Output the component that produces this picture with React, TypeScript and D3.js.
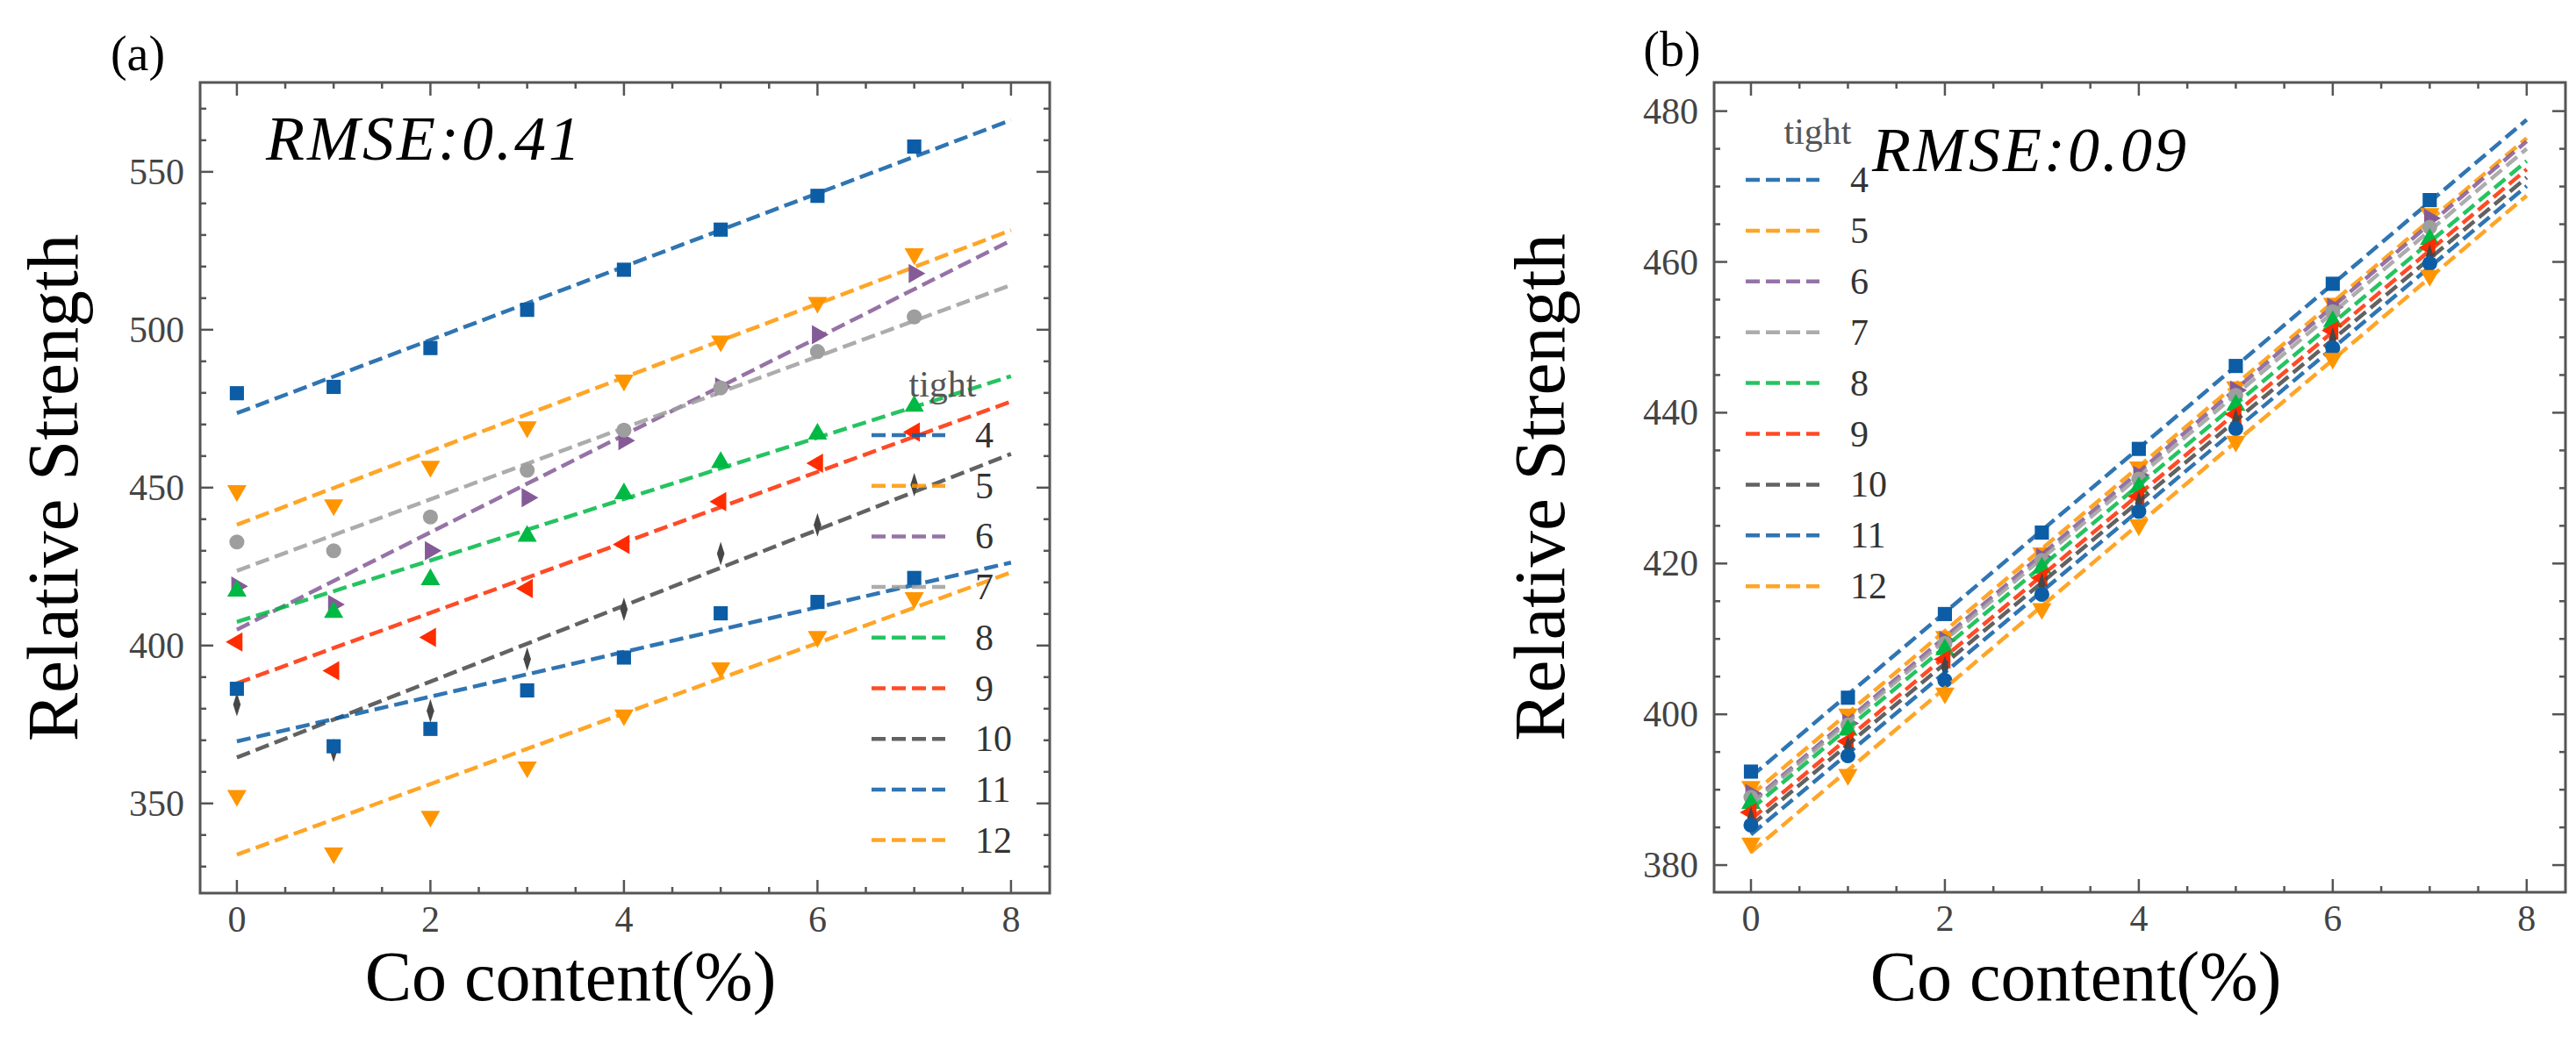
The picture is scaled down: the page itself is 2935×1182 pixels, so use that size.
import React from "react";
import * as d3 from "d3";

// Co content (%) at which each tight value was measured
const coContent = [0, 1, 2, 3, 4, 5, 6, 7];
const tightLabels = ["4", "5", "6", "7", "8", "9", "10", "11", "12"];
const seriesColors = [
  "#0C5DA5",
  "#FF9500",
  "#845B97",
  "#9e9e9e",
  "#00B945",
  "#FF2C00",
  "#474747",
  "#0C5DA5",
  "#FF9500",
];
const markersA = ["square", "down", "right", "circle", "up", "left", "thin", "square", "down"];
const markersB = ["square", "down", "right", "circle", "up", "left", "thin", "circle", "down"];

// panel (a) : RMSE 0.41
const strengthA4 = [479.9, 481.9, 494.2, 506.3, 519.0, 531.7, 542.4, 558.0];
const strengthA5 = [449.0, 444.5, 456.7, 469.2, 484.0, 496.4, 508.6, 524.0];
const strengthA6 = [418.8, 413.0, 430.0, 446.8, 464.9, 481.9, 498.4, 517.8];
const strengthA7 = [432.8, 430.0, 440.7, 455.5, 468.2, 481.6, 493.1, 504.1];
const strengthA8 = [417.3, 410.5, 420.9, 434.6, 448.1, 458.0, 467.0, 475.8];
const strengthA9 = [401.1, 392.0, 402.6, 418.1, 432.0, 445.6, 457.7, 467.6];
const strengthA10 = [381.3, 366.8, 379.3, 395.7, 411.5, 429.1, 438.2, 450.9];
const strengthA11 = [386.3, 368.1, 373.6, 385.8, 396.2, 410.2, 413.8, 421.4];
const strengthA12 = [352.5, 334.3, 345.9, 361.5, 378.0, 392.9, 402.8, 415.1];

// panel (b) : RMSE 0.09
const strengthB4 = [392.4, 402.2, 413.3, 424.1, 435.2, 446.2, 457.1, 468.2];
const strengthB5 = [390.4, 400.0, 410.3, 421.4, 432.8, 443.4, 454.5, 466.4];
const strengthB6 = [389.5, 398.8, 409.8, 420.8, 431.7, 443.0, 454.0, 465.8];
const strengthB7 = [389.0, 398.6, 409.4, 420.4, 431.2, 442.3, 453.4, 464.6];
const strengthB8 = [388.2, 397.9, 408.6, 419.4, 430.1, 441.0, 452.1, 463.0];
const strengthB9 = [387.0, 396.4, 407.3, 418.1, 428.9, 439.8, 450.9, 461.9];
const strengthB10 = [386.2, 395.6, 406.2, 417.2, 428.0, 439.0, 449.8, 460.8];
const strengthB11 = [385.3, 394.5, 404.5, 415.9, 426.9, 437.9, 448.6, 459.8];
const strengthB12 = [382.9, 392.0, 402.8, 414.0, 425.1, 436.2, 447.2, 458.2];

const xTicks = [0, 2, 4, 6, 8];
const yTicksA = [350, 400, 450, 500, 550];
const yTicksB = [380, 400, 420, 440, 460, 480];

const panelA = [strengthA4, strengthA5, strengthA6, strengthA7, strengthA8, strengthA9, strengthA10, strengthA11, strengthA12];
const panelB = [strengthB4, strengthB5, strengthB6, strengthB7, strengthB8, strengthB9, strengthB10, strengthB11, strengthB12];

const FONT = "'Liberation Serif', 'DejaVu Serif', serif";

// least squares line through the measured points
function fit(xs, ys) {
  let mx = d3.mean(xs);
  let my = d3.mean(ys);
  let num = d3.sum(xs, (x, i) => (x - mx) * (ys[i] - my));
  let den = d3.sum(xs, (x) => (x - mx) * (x - mx));
  let slope = num / den;
  return { slope, intercept: my - slope * mx };
}

function markerPath(kind) {
  if (kind === "square") return { d: d3.symbol(d3.symbolSquare, 260)(), rot: 0, sx: 1 };
  if (kind === "circle") return { d: d3.symbol(d3.symbolCircle, 230)(), rot: 0, sx: 1 };
  if (kind === "thin") return { d: d3.symbol(d3.symbolDiamond, 210)(), rot: 0, sx: 0.55 };
  let tri = d3.symbol(d3.symbolTriangle, 210)();
  let rot = { up: 0, down: 180, right: 90, left: -90 }[kind];
  return { d: tri, rot, sx: 1 };
}

function Panel({ box, yDomain, yTicks, yMinor, series, markers, legend, rmse, tag, labels }) {
  let x = d3.scaleLinear().domain([-0.38, 8.4]).range([box.left, box.right]);
  let y = d3.scaleLinear().domain(yDomain).range([box.bottom, box.top]);

  let xMinor = d3.range(0, 8.01, 0.5);
  let yMinorTicks = d3.range(Math.ceil(yDomain[0] / yMinor) * yMinor, yDomain[1], yMinor);

  let line = d3
    .line()
    .x((d) => x(d[0]))
    .y((d) => y(d[1]));

  let frameColor = "#555";

  return (
    <g>
      {/* panel tag */}
      <text x={tag.x} y={tag.y} fontFamily={FONT} fontSize={56} textAnchor="middle">
        {tag.text}
      </text>

      {/* series */}
      {series.map((vals, si) => {
        let f = fit(coContent, vals);
        let m = markerPath(markers[si]);
        return (
          <g key={si}>
            {vals.map((v, i) => (
              <path
                key={i}
                d={m.d}
                fill={seriesColors[si]}
                transform={`translate(${x(coContent[i])},${y(v)}) rotate(${m.rot}) scale(${m.sx},1)`}
              />
            ))}
            <path
              d={line([
                [0, f.intercept],
                [8, f.intercept + 8 * f.slope],
              ])}
              fill="none"
              stroke={seriesColors[si]}
              strokeOpacity={0.85}
              strokeWidth={4.5}
              strokeDasharray="16,7"
            />
          </g>
        );
      })}

      {/* frame */}
      <rect
        x={box.left}
        y={box.top}
        width={box.right - box.left}
        height={box.bottom - box.top}
        fill="none"
        stroke={frameColor}
        strokeWidth={3}
      />

      {/* x ticks, inward on bottom and top */}
      {xMinor.map((t) => {
        let major = xTicks.includes(t);
        let len = major ? 15 : 7;
        return (
          <g key={t}>
            <line x1={x(t)} x2={x(t)} y1={box.bottom} y2={box.bottom - len} stroke={frameColor} strokeWidth={2.5} />
            <line x1={x(t)} x2={x(t)} y1={box.top} y2={box.top + len} stroke={frameColor} strokeWidth={2.5} />
          </g>
        );
      })}
      {xTicks.map((t) => (
        <text
          key={t}
          x={x(t)}
          y={box.bottom + 30}
          fontFamily={FONT}
          fontSize={42}
          fill="#444"
          textAnchor="middle"
          dominantBaseline="central"
        >
          {t}
        </text>
      ))}

      {/* y ticks, inward on left and right */}
      {yMinorTicks.map((t) => {
        let major = yTicks.includes(Math.round(t));
        let len = major ? 15 : 7;
        return (
          <g key={t}>
            <line x1={box.left} x2={box.left + len} y1={y(t)} y2={y(t)} stroke={frameColor} strokeWidth={2.5} />
            <line x1={box.right} x2={box.right - len} y1={y(t)} y2={y(t)} stroke={frameColor} strokeWidth={2.5} />
          </g>
        );
      })}
      {yTicks.map((t) => (
        <text
          key={t}
          x={box.left - 18}
          y={y(t)}
          fontFamily={FONT}
          fontSize={42}
          fill="#444"
          textAnchor="end"
          dominantBaseline="central"
        >
          {t}
        </text>
      ))}

      {/* axis titles */}
      <text
        transform={`translate(${labels.yx},${(box.top + box.bottom) / 2}) rotate(-90)`}
        fontFamily={FONT}
        fontSize={83}
        textAnchor="middle"
      >
        Relative Strength
      </text>
      <text x={labels.xx} y={1140} fontFamily={FONT} fontSize={80} textAnchor="middle">
        Co content(%)
      </text>

      {/* RMSE */}
      <text x={rmse.x} y={rmse.y} fontFamily={FONT} fontStyle="italic" fontSize={72} letterSpacing={3}>
        {rmse.text}
      </text>

      {/* legend */}
      <text x={legend.titleX} y={legend.titleY} fontFamily={FONT} fontSize={42} fill="#555" textAnchor="middle" dominantBaseline="central">
        tight
      </text>
      {tightLabels.map((lab, i) => {
        let ly = legend.y0 + i * legend.step;
        return (
          <g key={lab}>
            <line
              x1={legend.x0}
              x2={legend.x0 + 84}
              y1={ly}
              y2={ly}
              stroke={seriesColors[i]}
              strokeOpacity={0.85}
              strokeWidth={4.5}
              strokeDasharray="16,7"
            />
            <text x={legend.textX} y={ly} fontFamily={FONT} fontSize={42} fill="#333" dominantBaseline="central">
              {lab}
            </text>
          </g>
        );
      })}
    </g>
  );
}

export default function App() {
  return (
    <svg
      width={2935}
      height={1182}
      viewBox="0 0 2935 1182"
      style={{ position: "absolute", left: 0, top: 0, background: "#fff" }}
    >
      <rect width={2935} height={1182} fill="#fff" />
      <Panel
        box={{ left: 228, right: 1196, top: 94, bottom: 1018 }}
        yDomain={[321.6, 578.3]}
        yTicks={yTicksA}
        yMinor={10}
        series={panelA}
        markers={markersA}
        tag={{ text: "(a)", x: 157, y: 80 }}
        rmse={{ text: "RMSE:0.41", x: 303, y: 182 }}
        legend={{ titleX: 1074, titleY: 438, x0: 993, textX: 1111, y0: 496, step: 57.7 }}
        labels={{ yx: 88, xx: 650 }}
      />
      <Panel
        box={{ left: 1953, right: 2923, top: 94, bottom: 1017 }}
        yDomain={[376.4, 483.8]}
        yTicks={yTicksB}
        yMinor={5}
        series={panelB}
        markers={markersB}
        tag={{ text: "(b)", x: 1905, y: 75 }}
        rmse={{ text: "RMSE:0.09", x: 2133, y: 195 }}
        legend={{ titleX: 2071, titleY: 150, x0: 1989, textX: 2108, y0: 205, step: 57.9 }}
        labels={{ yx: 1782, xx: 2365 }}
      />
    </svg>
  );
}
